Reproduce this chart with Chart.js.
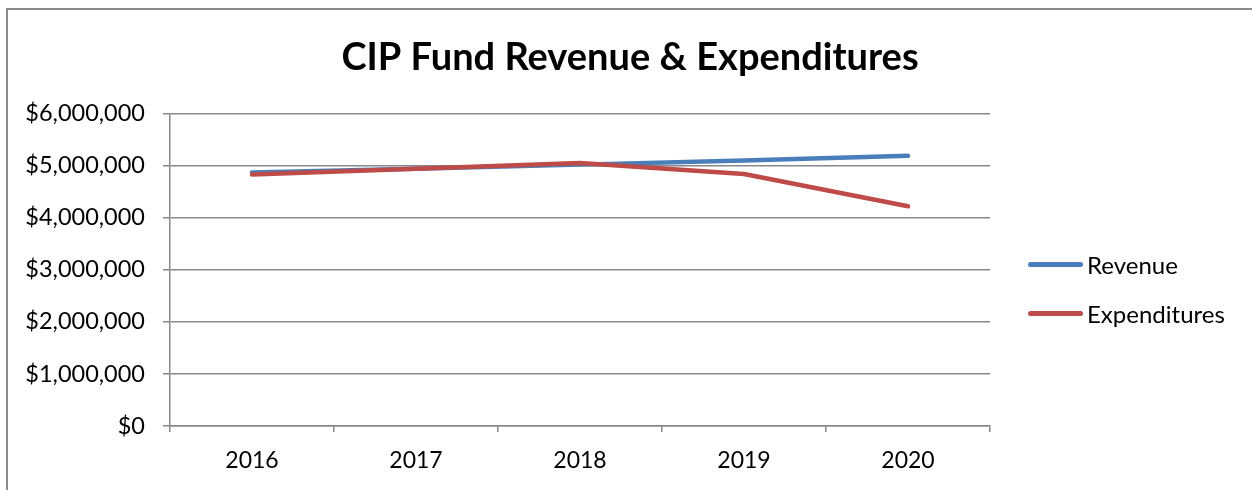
<!DOCTYPE html>
<html>
<head>
<meta charset="utf-8">
<script src="https://cdn.jsdelivr.net/npm/chart.js@4.4.1/dist/chart.umd.min.js"></script>
<style>
    body { margin: 0; background: #fff; }
    #frame {
        position: absolute; left: 6px; top: 8px; width: 1246px; height: 482px;
        border-top: 2px solid #8a8a8a; border-left: 2px solid #8a8a8a;
    }
    #wrap { position: absolute; left: 8px; top: 10px; width: 1244px; height: 480px; }
    .legend-item { position: absolute; left: 1028px; height: 30px; display: flex; align-items: center;
        font-family: Lato, "Open Sans", sans-serif; font-size: 24px; color: #000; }
    .legend-item span.swatch { display: inline-block; width: 55px; height: 5px; border-radius: 3px; margin-right: 4px; }
</style>
</head>
<body>
<div id="frame"></div>
<div id="wrap"><canvas id="fundChart"></canvas></div>
<div id="legend"></div>
<script>
const years = ['2016', '2017', '2018', '2019', '2020'];
const revenue = [4870000, 4940000, 5020000, 5100000, 5190000];
const expenditures = [4830000, 4940000, 5050000, 4840000, 4220000];
const seriesNames = ['Revenue', 'Expenditures'];
const seriesColors = ['#4a7ebb', '#be4b48'];

const gridColor = '#888888';
const fontFamily = 'Lato, "Open Sans", sans-serif';

// legend built as html so it sits where the reference has it
const legendTops = [249, 298];
seriesNames.forEach((name, i) => {
    const item = document.createElement('div');
    item.className = 'legend-item';
    item.style.top = legendTops[i] + 'px';
    item.innerHTML = `<span class="swatch" style="background:${seriesColors[i]}"></span>${name}`;
    document.getElementById('legend').append(item);
});

const ctx = document.getElementById('fundChart').getContext('2d');
new Chart(ctx, {
    type: 'line',
    data: {
        labels: years,
        datasets: [{
            label: seriesNames[0],
            data: revenue,
            borderColor: seriesColors[0],
            order: 2
        }, {
            label: seriesNames[1],
            data: expenditures,
            borderColor: seriesColors[1],
            order: 1
        }]
    },
    options: {
        responsive: true,
        maintainAspectRatio: false,
        animation: false,
        elements: {
            line: { borderWidth: 4.5, tension: 0, borderCapStyle: 'round', borderJoinStyle: 'round' },
            point: { radius: 0 }
        },
        plugins: {
            legend: { display: false },
            tooltip: { enabled: false },
            title: {
                display: true,
                text: 'CIP Fund Revenue & Expenditures',
                color: '#000',
                font: { family: fontFamily, size: 38, weight: 'bold', lineHeight: 1.2 },
                padding: { top: 25, bottom: 33 }
            }
        },
        scales: {
            x: {
                offset: true,
                grid: { offset: true, drawOnChartArea: false, drawTicks: true, tickLength: 6, color: gridColor, lineWidth: 1.5 },
                border: { display: true, color: gridColor, width: 1.5 },
                ticks: { color: '#000', padding: 15, font: { family: fontFamily, size: 23 }, maxRotation: 0 },
                afterFit: scale => { scale.height = 64; }
            },
            y: {
                min: 0,
                max: 6000000,
                grid: { color: gridColor, lineWidth: 1.5, drawTicks: true, tickLength: 7 },
                border: { display: true, color: gridColor, width: 1.5 },
                ticks: {
                    stepSize: 1000000,
                    color: '#000',
                    padding: 18,
                    font: { family: fontFamily, size: 23.5 },
                    callback: value => '$' + value.toLocaleString('en-US')
                },
                afterFit: scale => { scale.width = 162; }
            },
            // empty right-hand axis that only reserves the legend space
            space: {
                type: 'linear',
                position: 'right',
                display: true,
                grid: { drawOnChartArea: false, drawTicks: false },
                border: { display: false },
                ticks: { display: false },
                afterFit: scale => { scale.width = 262; }
            }
        }
    }
});
</script>
</body>
</html>
